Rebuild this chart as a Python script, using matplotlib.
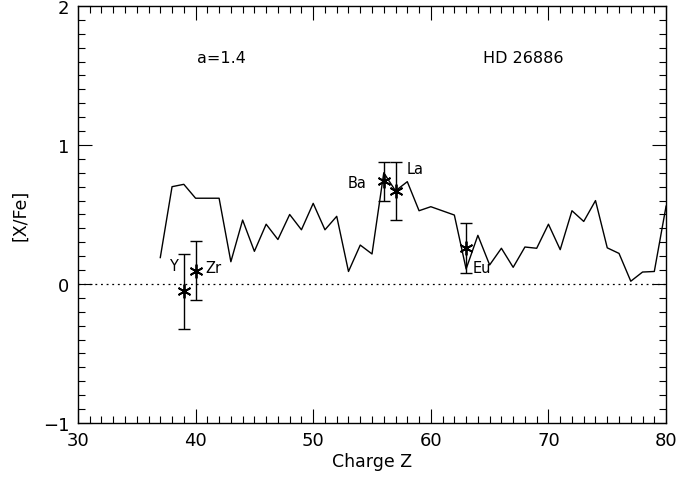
import matplotlib
matplotlib.use("Agg")
import matplotlib.pyplot as plt
from matplotlib.ticker import MultipleLocator

# Model abundance curve
z_model = list(range(37, 81))
xfe_model = [0.19, 0.70, 0.717, 0.617, 0.617, 0.617, 0.16, 0.46, 0.235, 0.43,
             0.32, 0.50, 0.39, 0.58, 0.39, 0.487, 0.09, 0.28, 0.216, 0.80,
             0.67, 0.736, 0.527, 0.556, 0.526, 0.496, 0.108, 0.35, 0.137, 0.257,
             0.12, 0.266, 0.257, 0.43, 0.247, 0.527, 0.45, 0.60, 0.26, 0.22,
             0.02, 0.086, 0.09, 0.56]

# Observed elements
elements = ["Y", "Zr", "Ba", "La", "Eu"]
z_obs = [39, 40, 56, 57, 63]
xfe_obs = [-0.053, 0.096, 0.74, 0.67, 0.257]
err_obs = [0.27, 0.21, 0.14, 0.21, 0.18]
label_pos = [(-0.9, 0.13), (1.5, 0.12), (-2.3, 0.73), (1.7, 0.83), (1.3, 0.12)]

plt.rcParams['font.family'] = ['DejaVu Sans']
fig = plt.figure(figsize=(6.96, 4.81), dpi=100)
ax = fig.add_axes([0.112, 0.1185, 0.845, 0.867])

ax.plot(z_model, xfe_model, color='black', lw=1.0)
ax.axhline(0, color='black', lw=0.9, ls=(0, (1.5, 3)))
ax.errorbar(z_obs, xfe_obs, yerr=err_obs, fmt='none', ecolor='black',
            elinewidth=1.0, capsize=4, capthick=1.0)
ax.plot(z_obs, xfe_obs, ls='none', marker=(6, 2, 0), ms=10, mec='black',
        mew=1.3, color='black')
for name, (dx, yy), z in zip(elements, label_pos, z_obs):
    ax.text(z + dx, yy, name, ha='center', va='center', fontsize=10.5)

ax.text(42.2, 1.63, "a=1.4", ha='center', va='center', fontsize=11.5)
ax.text(67.9, 1.63, "HD 26886", ha='center', va='center', fontsize=11.5)

ax.set_xlim(30, 80)
ax.set_ylim(-1, 2)
ax.xaxis.set_major_locator(MultipleLocator(10))
ax.xaxis.set_minor_locator(MultipleLocator(1))
ax.yaxis.set_major_locator(MultipleLocator(1))
ax.yaxis.set_minor_locator(MultipleLocator(0.1))
ax.tick_params(which='both', direction='in', top=True, right=True,
               labelsize=13, width=0.8)
ax.tick_params(which='major', length=10, pad=6)
ax.tick_params(which='minor', length=5)
ax.set_yticks([-1, 0, 1, 2])
ax.set_yticklabels(['\u22121', '0', '1', '2'])
ax.set_xlabel("Charge Z", fontsize=12.5, labelpad=2)
ax.set_ylabel("[X/Fe]", fontsize=12.5, labelpad=10)
for s in ax.spines.values():
    s.set_linewidth(1.0)

fig.savefig("out.png", dpi=100)
